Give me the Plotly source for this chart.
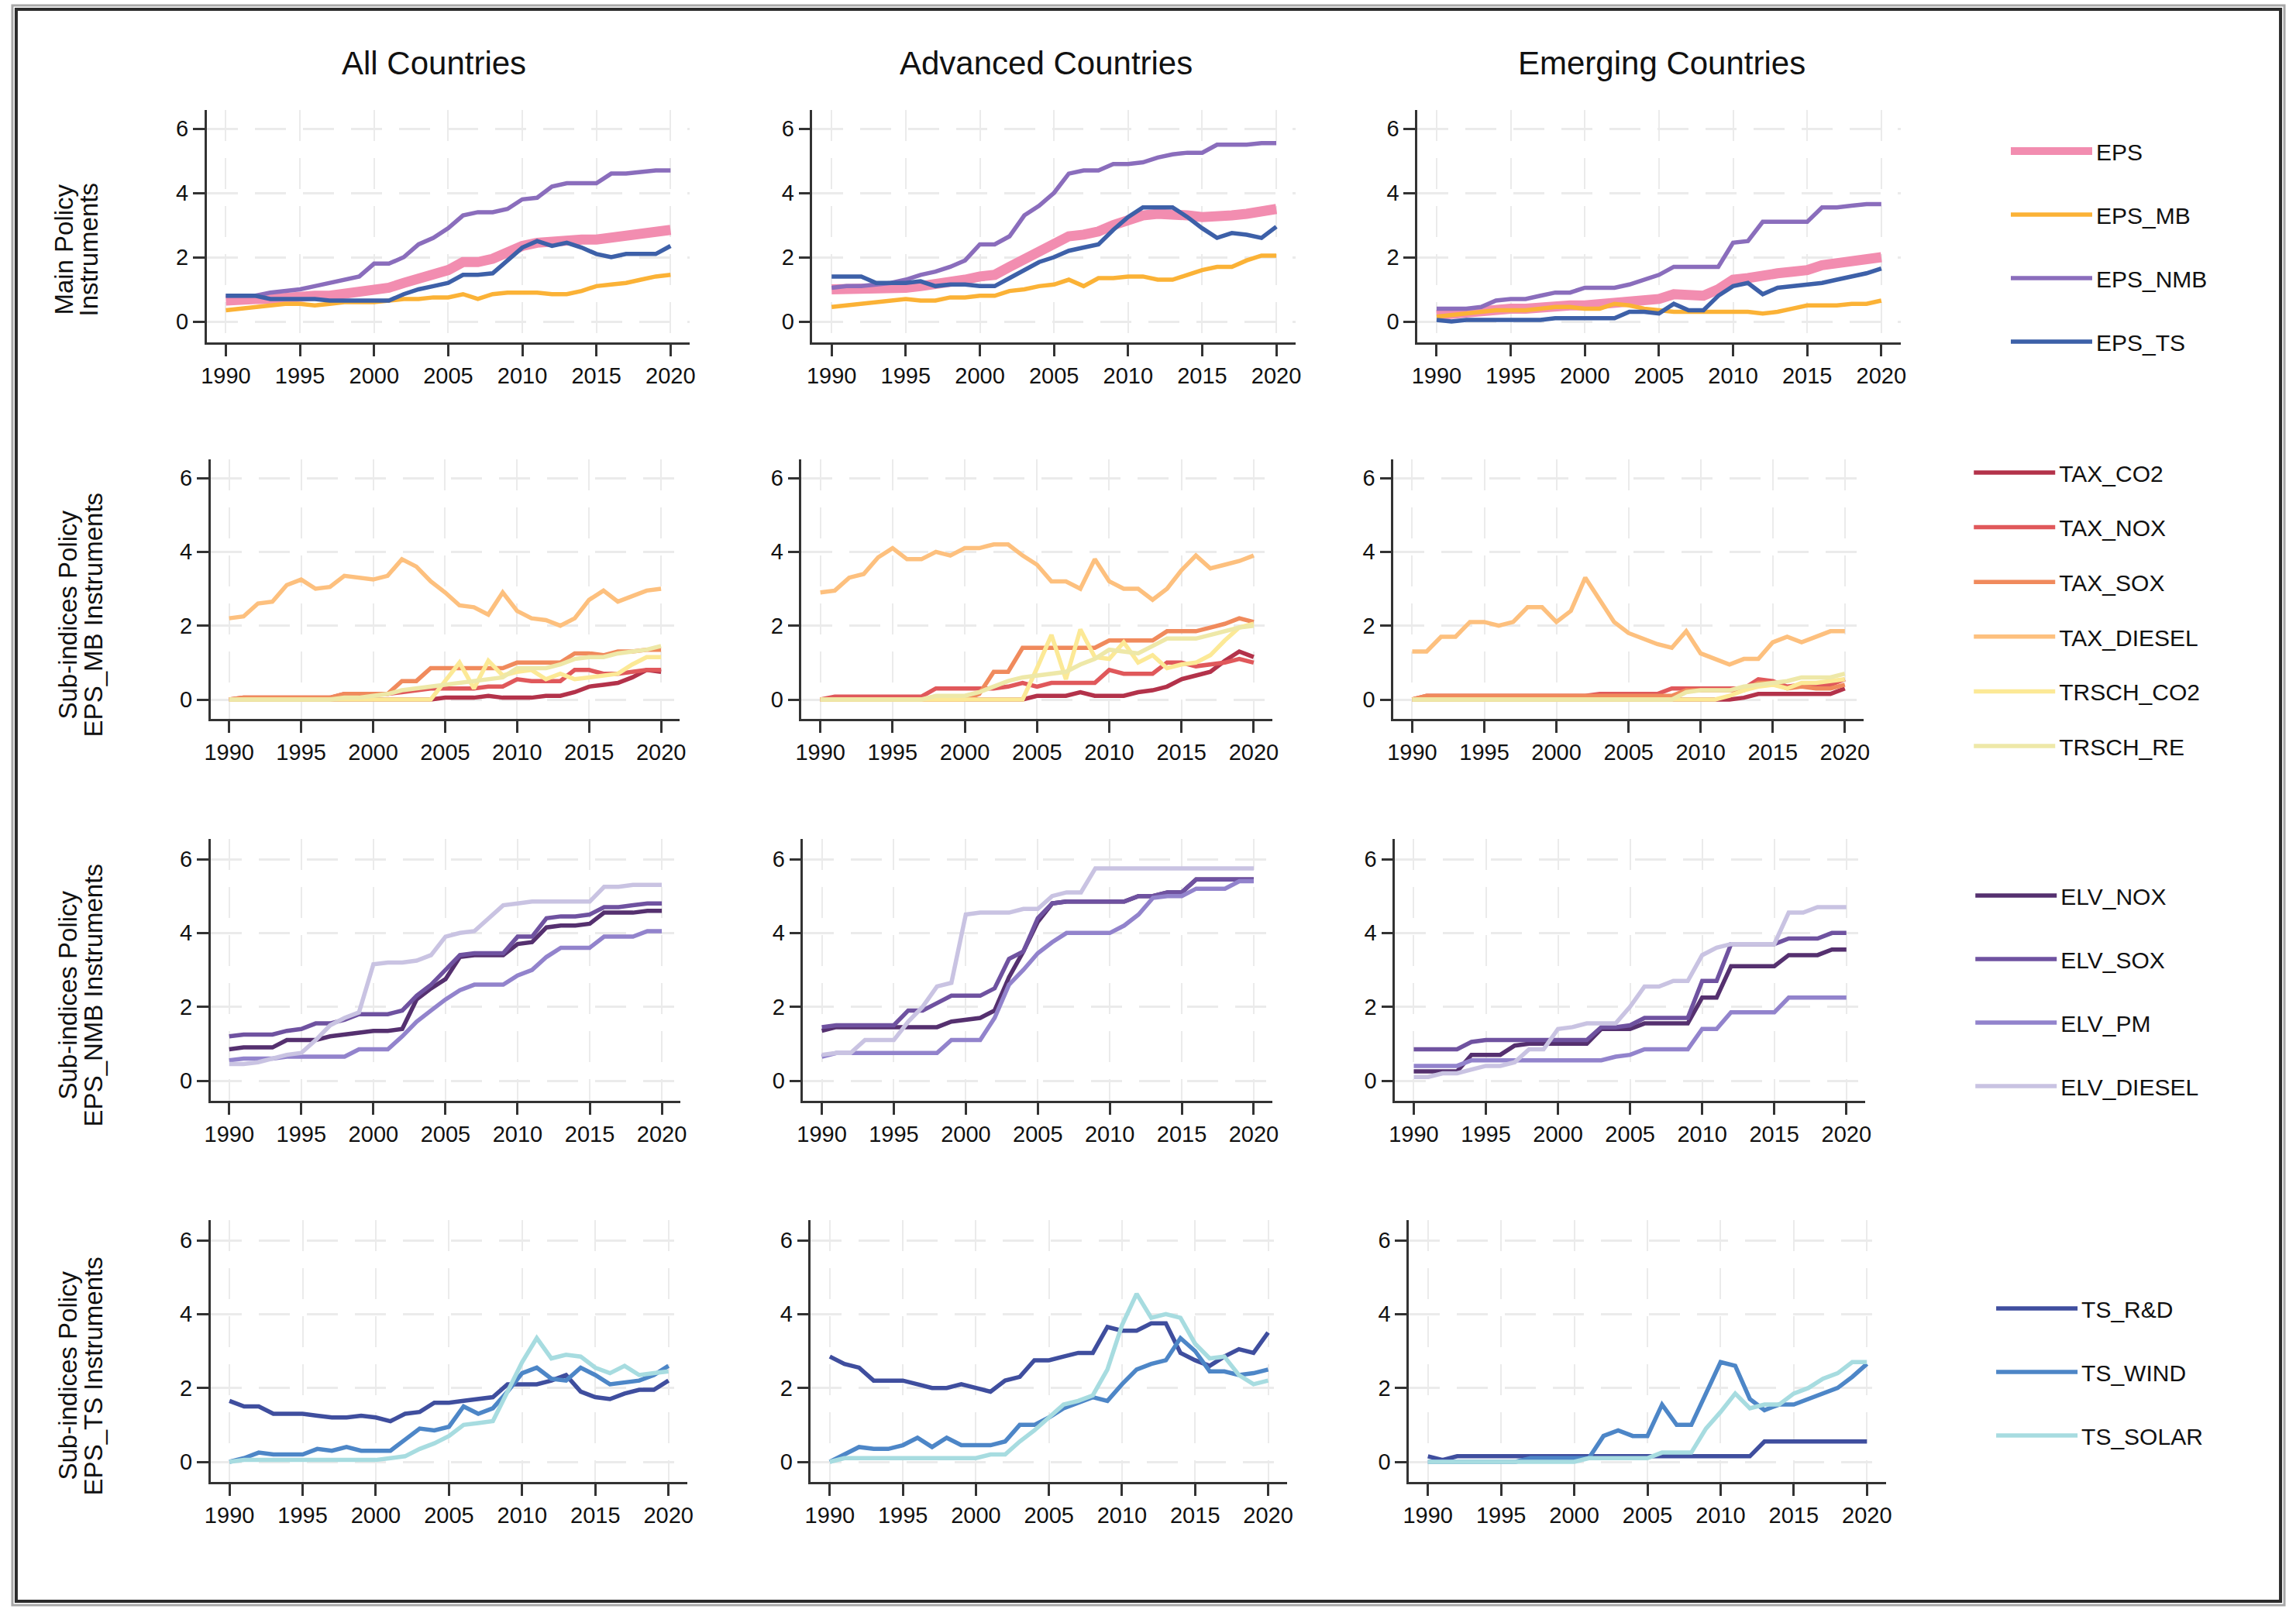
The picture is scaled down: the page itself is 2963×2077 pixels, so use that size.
import plotly.graph_objects as go

W, H = 2963, 2077

years = [1990, 1991, 1992, 1993, 1994, 1995, 1996, 1997, 1998, 1999, 2000,
         2001, 2002, 2003, 2004, 2005, 2006, 2007, 2008, 2009, 2010,
         2011, 2012, 2013, 2014, 2015, 2016, 2017, 2018, 2019, 2020]
x_ticks = [1990, 1995, 2000, 2005, 2010, 2015, 2020]
y_ticks = [0, 2, 4, 6]

col_titles = ["All Countries", "Advanced Countries", "Emerging Countries"]
row_titles = [("Main Policy", "Instruments"),
              ("Sub-indices Policy", "EPS_MB Instruments"),
              ("Sub-indices Policy", "EPS_NMB Instruments"),
              ("Sub-indices Policy", "EPS_TS Instruments")]

# ---------------- Row 1: main policy instruments ----------------
row1_names = ["EPS", "EPS_MB", "EPS_NMB", "EPS_TS"]
all_EPS = [0.65, 0.7, 0.7, 0.7, 0.75, 0.75, 0.8, 0.8, 0.85, 0.9, 1.0, 1.05, 1.2, 1.35, 1.5, 1.6, 1.85, 1.85, 1.95, 2.15, 2.35, 2.45, 2.5, 2.55, 2.55, 2.55, 2.6, 2.65, 2.7, 2.75, 2.85]
all_EPS_MB = [0.35, 0.4, 0.45, 0.5, 0.55, 0.55, 0.5, 0.55, 0.6, 0.6, 0.6, 0.65, 0.7, 0.7, 0.75, 0.75, 0.85, 0.7, 0.85, 0.9, 0.9, 0.9, 0.85, 0.85, 0.95, 1.1, 1.15, 1.2, 1.3, 1.4, 1.45]
all_EPS_NMB = [0.8, 0.8, 0.8, 0.9, 0.95, 1.0, 1.1, 1.2, 1.3, 1.4, 1.8, 1.8, 2.0, 2.4, 2.6, 2.9, 3.3, 3.4, 3.4, 3.5, 3.8, 3.85, 4.2, 4.3, 4.3, 4.3, 4.6, 4.6, 4.65, 4.7, 4.7]
all_EPS_TS = [0.8, 0.8, 0.8, 0.7, 0.7, 0.7, 0.7, 0.65, 0.65, 0.65, 0.65, 0.65, 0.85, 1.0, 1.1, 1.2, 1.45, 1.45, 1.5, 1.9, 2.3, 2.5, 2.35, 2.45, 2.3, 2.1, 2.0, 2.1, 2.1, 2.1, 2.35]

adv_EPS = [1.0, 1.0, 1.0, 1.0, 1.05, 1.05, 1.1, 1.15, 1.25, 1.3, 1.4, 1.45, 1.7, 1.95, 2.15, 2.4, 2.65, 2.7, 2.8, 3.0, 3.15, 3.3, 3.35, 3.35, 3.3, 3.25, 3.25, 3.3, 3.35, 3.4, 3.5]
adv_EPS_MB = [0.45, 0.5, 0.55, 0.6, 0.65, 0.7, 0.65, 0.65, 0.75, 0.75, 0.8, 0.8, 0.95, 1.0, 1.1, 1.15, 1.3, 1.1, 1.35, 1.35, 1.4, 1.4, 1.3, 1.3, 1.45, 1.6, 1.7, 1.7, 1.9, 2.05, 2.05]
adv_EPS_NMB = [1.05, 1.1, 1.1, 1.15, 1.2, 1.3, 1.45, 1.55, 1.7, 1.9, 2.4, 2.4, 2.65, 3.3, 3.6, 4.0, 4.6, 4.7, 4.7, 4.9, 4.9, 4.95, 5.1, 5.2, 5.25, 5.25, 5.5, 5.5, 5.5, 5.55, 5.55]
adv_EPS_TS = [1.4, 1.4, 1.4, 1.2, 1.2, 1.2, 1.25, 1.1, 1.15, 1.15, 1.1, 1.1, 1.35, 1.6, 1.85, 2.0, 2.2, 2.3, 2.4, 2.85, 3.25, 3.55, 3.55, 3.55, 3.25, 2.9, 2.6, 2.75, 2.7, 2.6, 2.95]

em_EPS = [0.2, 0.25, 0.3, 0.35, 0.4, 0.4, 0.4, 0.45, 0.5, 0.5, 0.5, 0.55, 0.6, 0.65, 0.65, 0.7, 0.85, 0.8, 0.8, 1.0, 1.3, 1.35, 1.45, 1.5, 1.55, 1.6, 1.75, 1.8, 1.85, 1.9, 2.0]
em_EPS_MB = [0.15, 0.2, 0.25, 0.3, 0.35, 0.35, 0.35, 0.4, 0.45, 0.45, 0.4, 0.4, 0.55, 0.5, 0.4, 0.35, 0.3, 0.3, 0.3, 0.3, 0.3, 0.3, 0.25, 0.3, 0.4, 0.5, 0.5, 0.5, 0.55, 0.55, 0.65]
em_EPS_NMB = [0.4, 0.4, 0.4, 0.45, 0.65, 0.7, 0.7, 0.8, 0.9, 0.9, 1.05, 1.05, 1.05, 1.15, 1.3, 1.45, 1.7, 1.7, 1.7, 1.7, 2.45, 2.5, 3.1, 3.1, 3.1, 3.1, 3.55, 3.55, 3.6, 3.65, 3.65]
em_EPS_TS = [0.05, 0.0, 0.05, 0.05, 0.05, 0.05, 0.05, 0.05, 0.1, 0.1, 0.1, 0.1, 0.1, 0.3, 0.3, 0.25, 0.55, 0.35, 0.35, 0.8, 1.1, 1.2, 0.85, 1.05, 1.1, 1.15, 1.2, 1.3, 1.4, 1.5, 1.65]

# ---------------- Row 2: market-based sub-indices ----------------
row2_names = ["TAX_CO2", "TAX_NOX", "TAX_SOX", "TAX_DIESEL", "TRSCH_CO2", "TRSCH_RE"]
all_TAX_CO2 = [0, 0, 0, 0, 0, 0, 0, 0, 0, 0, 0, 0, 0, 0, 0, 0.05, 0.05, 0.05, 0.1, 0.05, 0.05, 0.05, 0.1, 0.1, 0.2, 0.35, 0.4, 0.45, 0.6, 0.8, 0.75]
all_TAX_NOX = [0, 0.05, 0.05, 0.05, 0.05, 0.05, 0.05, 0.05, 0.15, 0.15, 0.15, 0.15, 0.2, 0.25, 0.3, 0.3, 0.3, 0.3, 0.35, 0.35, 0.55, 0.5, 0.5, 0.5, 0.8, 0.8, 0.7, 0.7, 0.75, 0.8, 0.8]
all_TAX_SOX = [0, 0.05, 0.05, 0.05, 0.05, 0.05, 0.05, 0.05, 0.15, 0.15, 0.15, 0.15, 0.5, 0.5, 0.85, 0.85, 0.85, 0.85, 0.85, 0.85, 1.0, 1.0, 1.0, 1.0, 1.25, 1.25, 1.2, 1.3, 1.3, 1.35, 1.35]
all_TAX_DIESEL = [2.2, 2.25, 2.6, 2.65, 3.1, 3.25, 3.0, 3.05, 3.35, 3.3, 3.25, 3.35, 3.8, 3.6, 3.2, 2.9, 2.55, 2.5, 2.3, 2.9, 2.4, 2.2, 2.15, 2.0, 2.2, 2.7, 2.95, 2.65, 2.8, 2.95, 3.0]
all_TRSCH_CO2 = [0, 0, 0, 0, 0, 0, 0, 0, 0, 0, 0, 0, 0, 0, 0, 0.5, 1.0, 0.3, 1.05, 0.65, 0.75, 0.8, 0.55, 0.7, 0.55, 0.6, 0.65, 0.7, 0.95, 1.15, 1.15]
all_TRSCH_RE = [0, 0, 0, 0, 0, 0, 0, 0, 0.05, 0.05, 0.1, 0.15, 0.25, 0.3, 0.35, 0.4, 0.45, 0.5, 0.55, 0.6, 0.85, 0.85, 0.85, 0.95, 1.1, 1.15, 1.15, 1.25, 1.3, 1.35, 1.45]

adv_TAX_CO2 = [0, 0, 0, 0, 0, 0, 0, 0, 0, 0, 0, 0, 0, 0, 0, 0.1, 0.1, 0.1, 0.2, 0.1, 0.1, 0.1, 0.2, 0.25, 0.35, 0.55, 0.65, 0.75, 1.05, 1.3, 1.15]
adv_TAX_NOX = [0, 0.08, 0.08, 0.08, 0.08, 0.08, 0.08, 0.08, 0.3, 0.3, 0.3, 0.3, 0.3, 0.35, 0.45, 0.35, 0.45, 0.45, 0.45, 0.45, 0.8, 0.7, 0.7, 0.7, 1.0, 1.0, 0.9, 0.95, 1.0, 1.1, 1.0]
adv_TAX_SOX = [0, 0, 0, 0, 0, 0, 0, 0, 0, 0, 0, 0.15, 0.75, 0.75, 1.4, 1.4, 1.4, 1.4, 1.4, 1.4, 1.6, 1.6, 1.6, 1.6, 1.85, 1.85, 1.85, 1.95, 2.05, 2.2, 2.1]
adv_TAX_DIESEL = [2.9, 2.95, 3.3, 3.4, 3.85, 4.1, 3.8, 3.8, 4.0, 3.9, 4.1, 4.1, 4.2, 4.2, 3.9, 3.65, 3.2, 3.2, 3.0, 3.8, 3.2, 3.0, 3.0, 2.7, 3.0, 3.5, 3.9, 3.55, 3.65, 3.75, 3.9]
adv_TRSCH_CO2 = [0, 0, 0, 0, 0, 0, 0, 0, 0, 0, 0, 0, 0, 0, 0, 0.85, 1.75, 0.55, 1.9, 1.15, 1.1, 1.55, 1.0, 1.2, 0.85, 0.95, 1.0, 1.2, 1.6, 1.95, 2.05]
adv_TRSCH_RE = [0, 0, 0, 0, 0, 0, 0, 0, 0.1, 0.1, 0.1, 0.2, 0.35, 0.5, 0.6, 0.65, 0.7, 0.75, 0.95, 1.1, 1.35, 1.3, 1.25, 1.45, 1.65, 1.65, 1.65, 1.75, 1.85, 1.95, 2.0]

em_TAX_CO2 = [0, 0, 0, 0, 0, 0, 0, 0, 0, 0, 0, 0, 0, 0, 0, 0, 0, 0, 0, 0, 0, 0, 0, 0.05, 0.15, 0.15, 0.15, 0.15, 0.15, 0.15, 0.3]
em_TAX_NOX = [0, 0.1, 0.1, 0.1, 0.1, 0.1, 0.1, 0.1, 0.1, 0.1, 0.1, 0.1, 0.1, 0.15, 0.15, 0.15, 0.15, 0.15, 0.3, 0.3, 0.3, 0.3, 0.3, 0.3, 0.55, 0.5, 0.35, 0.4, 0.4, 0.4, 0.55]
em_TAX_SOX = [0, 0.1, 0.1, 0.1, 0.1, 0.1, 0.1, 0.1, 0.1, 0.1, 0.1, 0.1, 0.1, 0.1, 0.1, 0.1, 0.1, 0.1, 0.1, 0.25, 0.25, 0.25, 0.25, 0.25, 0.45, 0.45, 0.3, 0.35, 0.3, 0.3, 0.4]
em_TAX_DIESEL = [1.3, 1.3, 1.7, 1.7, 2.1, 2.1, 2.0, 2.1, 2.5, 2.5, 2.1, 2.4, 3.3, 2.7, 2.1, 1.8, 1.65, 1.5, 1.4, 1.85, 1.25, 1.1, 0.95, 1.1, 1.1, 1.55, 1.7, 1.55, 1.7, 1.85, 1.85]
em_TRSCH_CO2 = [0, 0, 0, 0, 0, 0, 0, 0, 0, 0, 0, 0, 0, 0, 0, 0, 0, 0, 0, 0, 0, 0, 0.1, 0.25, 0.35, 0.4, 0.3, 0.45, 0.45, 0.5, 0.55]
em_TRSCH_RE = [0, 0, 0, 0, 0, 0, 0, 0, 0, 0, 0, 0, 0, 0, 0, 0, 0, 0, 0, 0.2, 0.25, 0.25, 0.25, 0.35, 0.4, 0.45, 0.5, 0.6, 0.6, 0.6, 0.7]

# ---------------- Row 3: non-market-based sub-indices ----------------
row3_names = ["ELV_NOX", "ELV_SOX", "ELV_PM", "ELV_DIESEL"]
all_ELV_NOX = [0.85, 0.9, 0.9, 0.9, 1.1, 1.1, 1.1, 1.2, 1.25, 1.3, 1.35, 1.35, 1.4, 2.2, 2.5, 2.75, 3.35, 3.4, 3.4, 3.4, 3.7, 3.75, 4.15, 4.2, 4.2, 4.25, 4.55, 4.55, 4.55, 4.6, 4.6]
all_ELV_SOX = [1.2, 1.25, 1.25, 1.25, 1.35, 1.4, 1.55, 1.55, 1.65, 1.8, 1.8, 1.8, 1.9, 2.3, 2.6, 3.0, 3.4, 3.45, 3.45, 3.45, 3.9, 3.9, 4.4, 4.45, 4.45, 4.5, 4.7, 4.7, 4.75, 4.8, 4.8]
all_ELV_PM = [0.55, 0.6, 0.6, 0.6, 0.65, 0.65, 0.65, 0.65, 0.65, 0.85, 0.85, 0.85, 1.2, 1.6, 1.9, 2.2, 2.45, 2.6, 2.6, 2.6, 2.85, 3.0, 3.35, 3.6, 3.6, 3.6, 3.9, 3.9, 3.9, 4.05, 4.05]
all_ELV_DIESEL = [0.45, 0.45, 0.5, 0.6, 0.7, 0.75, 1.1, 1.5, 1.7, 1.85, 3.15, 3.2, 3.2, 3.25, 3.4, 3.9, 4.0, 4.05, 4.4, 4.75, 4.8, 4.85, 4.85, 4.85, 4.85, 4.85, 5.25, 5.25, 5.3, 5.3, 5.3]

adv_ELV_NOX = [1.35, 1.45, 1.45, 1.45, 1.45, 1.45, 1.45, 1.45, 1.45, 1.6, 1.65, 1.7, 1.9, 2.8, 3.5, 4.3, 4.8, 4.85, 4.85, 4.85, 4.85, 4.85, 5.0, 5.0, 5.1, 5.1, 5.45, 5.45, 5.45, 5.45, 5.45]
adv_ELV_SOX = [1.45, 1.5, 1.5, 1.5, 1.5, 1.5, 1.9, 1.9, 2.1, 2.3, 2.3, 2.3, 2.5, 3.3, 3.5, 4.4, 4.8, 4.85, 4.85, 4.85, 4.85, 4.85, 5.0, 5.0, 5.1, 5.1, 5.45, 5.45, 5.45, 5.45, 5.45]
adv_ELV_PM = [0.65, 0.75, 0.75, 0.75, 0.75, 0.75, 0.75, 0.75, 0.75, 1.1, 1.1, 1.1, 1.7, 2.6, 3.0, 3.45, 3.75, 4.0, 4.0, 4.0, 4.0, 4.2, 4.5, 4.95, 5.0, 5.0, 5.2, 5.2, 5.2, 5.4, 5.4]
adv_ELV_DIESEL = [0.7, 0.75, 0.75, 1.1, 1.1, 1.1, 1.6, 2.0, 2.55, 2.65, 4.5, 4.55, 4.55, 4.55, 4.65, 4.65, 5.0, 5.1, 5.1, 5.75, 5.75, 5.75, 5.75, 5.75, 5.75, 5.75, 5.75, 5.75, 5.75, 5.75, 5.75]

em_ELV_NOX = [0.25, 0.25, 0.25, 0.25, 0.7, 0.7, 0.7, 0.95, 1.0, 1.0, 1.0, 1.0, 1.0, 1.4, 1.4, 1.4, 1.55, 1.55, 1.55, 1.55, 2.25, 2.25, 3.1, 3.1, 3.1, 3.1, 3.4, 3.4, 3.4, 3.55, 3.55]
em_ELV_SOX = [0.85, 0.85, 0.85, 0.85, 1.05, 1.1, 1.1, 1.1, 1.1, 1.1, 1.1, 1.1, 1.1, 1.45, 1.45, 1.5, 1.7, 1.7, 1.7, 1.7, 2.7, 2.7, 3.7, 3.7, 3.7, 3.7, 3.85, 3.85, 3.85, 4.0, 4.0]
em_ELV_PM = [0.4, 0.4, 0.4, 0.4, 0.55, 0.55, 0.55, 0.55, 0.55, 0.55, 0.55, 0.55, 0.55, 0.55, 0.65, 0.7, 0.85, 0.85, 0.85, 0.85, 1.4, 1.4, 1.85, 1.85, 1.85, 1.85, 2.25, 2.25, 2.25, 2.25, 2.25]
em_ELV_DIESEL = [0.1, 0.1, 0.2, 0.2, 0.3, 0.4, 0.4, 0.5, 0.85, 0.85, 1.4, 1.45, 1.55, 1.55, 1.55, 2.0, 2.55, 2.55, 2.7, 2.7, 3.4, 3.6, 3.7, 3.7, 3.7, 3.7, 4.55, 4.55, 4.7, 4.7, 4.7]

# ---------------- Row 4: technology support sub-indices ----------------
row4_names = ["TS_R&D", "TS_WIND", "TS_SOLAR"]
all_TS_RD = [1.65, 1.5, 1.5, 1.3, 1.3, 1.3, 1.25, 1.2, 1.2, 1.25, 1.2, 1.1, 1.3, 1.35, 1.6, 1.6, 1.65, 1.7, 1.75, 2.1, 2.1, 2.1, 2.2, 2.35, 1.9, 1.75, 1.7, 1.85, 1.95, 1.95, 2.2]
all_TS_WIND = [0.0, 0.1, 0.25, 0.2, 0.2, 0.2, 0.35, 0.3, 0.4, 0.3, 0.3, 0.3, 0.6, 0.9, 0.85, 0.95, 1.5, 1.3, 1.45, 1.9, 2.4, 2.55, 2.25, 2.2, 2.55, 2.35, 2.1, 2.15, 2.2, 2.35, 2.6]
all_TS_SOLAR = [0.0, 0.05, 0.05, 0.05, 0.05, 0.05, 0.05, 0.05, 0.05, 0.05, 0.05, 0.1, 0.15, 0.35, 0.5, 0.7, 1.0, 1.05, 1.1, 1.9, 2.7, 3.35, 2.8, 2.9, 2.85, 2.55, 2.4, 2.6, 2.35, 2.4, 2.45]

adv_TS_RD = [2.85, 2.65, 2.55, 2.2, 2.2, 2.2, 2.1, 2.0, 2.0, 2.1, 2.0, 1.9, 2.2, 2.3, 2.75, 2.75, 2.85, 2.95, 2.95, 3.65, 3.55, 3.55, 3.75, 3.75, 2.95, 2.75, 2.6, 2.85, 3.05, 2.95, 3.5]
adv_TS_WIND = [0.0, 0.2, 0.4, 0.35, 0.35, 0.45, 0.65, 0.4, 0.65, 0.45, 0.45, 0.45, 0.55, 1.0, 1.0, 1.2, 1.45, 1.6, 1.75, 1.65, 2.1, 2.5, 2.65, 2.75, 3.35, 3.0, 2.45, 2.45, 2.35, 2.4, 2.5]
adv_TS_SOLAR = [0.0, 0.1, 0.1, 0.1, 0.1, 0.1, 0.1, 0.1, 0.1, 0.1, 0.1, 0.2, 0.2, 0.55, 0.85, 1.2, 1.55, 1.65, 1.8, 2.5, 3.7, 4.55, 3.9, 4.0, 3.9, 3.2, 2.8, 2.85, 2.35, 2.1, 2.2]

em_TS_RD = [0.15, 0.05, 0.15, 0.15, 0.15, 0.15, 0.15, 0.15, 0.15, 0.15, 0.15, 0.15, 0.15, 0.15, 0.15, 0.15, 0.15, 0.15, 0.15, 0.15, 0.15, 0.15, 0.15, 0.55, 0.55, 0.55, 0.55, 0.55, 0.55, 0.55, 0.55]
em_TS_WIND = [0.0, 0.0, 0.0, 0.0, 0.0, 0.0, 0.0, 0.1, 0.1, 0.1, 0.1, 0.1, 0.7, 0.85, 0.7, 0.7, 1.55, 1.0, 1.0, 1.85, 2.7, 2.6, 1.7, 1.4, 1.55, 1.55, 1.7, 1.85, 2.0, 2.3, 2.65]
em_TS_SOLAR = [0.0, 0.0, 0.0, 0.0, 0.0, 0.0, 0.0, 0.0, 0.0, 0.0, 0.0, 0.1, 0.1, 0.1, 0.1, 0.1, 0.25, 0.25, 0.25, 0.9, 1.35, 1.85, 1.45, 1.55, 1.55, 1.85, 2.0, 2.25, 2.4, 2.7, 2.7]

# ---------------- styles ----------------
row1_colors = ["#F28DB0", "#FBB236", "#8A6DBC", "#3D60A8"]
row1_widths = [13, 5.5, 5.5, 5.5]
row2_colors = ["#B3324A", "#E0585B", "#F08A5C", "#FDC07E", "#FCE996", "#EEE8A8"]
row2_widths = [5.5, 5.5, 5.5, 5.5, 5.5, 5.5]
row3_colors = ["#55306F", "#6F52A0", "#9283CC", "#C9C3E2"]
row3_widths = [5.5, 5.5, 5.5, 5.5]
row4_colors = ["#3F4E9E", "#4D86C7", "#A7DCE0"]
row4_widths = [5.5, 5.5, 5.5]

rows = [
    (row1_names, row1_colors, row1_widths,
     [[all_EPS, all_EPS_MB, all_EPS_NMB, all_EPS_TS],
      [adv_EPS, adv_EPS_MB, adv_EPS_NMB, adv_EPS_TS],
      [em_EPS, em_EPS_MB, em_EPS_NMB, em_EPS_TS]]),
    (row2_names, row2_colors, row2_widths,
     [[all_TAX_CO2, all_TAX_NOX, all_TAX_SOX, all_TAX_DIESEL, all_TRSCH_CO2, all_TRSCH_RE],
      [adv_TAX_CO2, adv_TAX_NOX, adv_TAX_SOX, adv_TAX_DIESEL, adv_TRSCH_CO2, adv_TRSCH_RE],
      [em_TAX_CO2, em_TAX_NOX, em_TAX_SOX, em_TAX_DIESEL, em_TRSCH_CO2, em_TRSCH_RE]]),
    (row3_names, row3_colors, row3_widths,
     [[all_ELV_NOX, all_ELV_SOX, all_ELV_PM, all_ELV_DIESEL],
      [adv_ELV_NOX, adv_ELV_SOX, adv_ELV_PM, adv_ELV_DIESEL],
      [em_ELV_NOX, em_ELV_SOX, em_ELV_PM, em_ELV_DIESEL]]),
    (row4_names, row4_colors, row4_widths,
     [[all_TS_RD, all_TS_WIND, all_TS_SOLAR],
      [adv_TS_RD, adv_TS_WIND, adv_TS_SOLAR],
      [em_TS_RD, em_TS_WIND, em_TS_SOLAR]]),
]

# ---------------- layout geometry (pixels) ----------------
panel_x = [[(260, 887), (1046, 1673), (1831, 2458)],
           [(265, 874), (1032, 1643), (1800, 2410)],
           [(265, 875), (1034, 1643), (1802, 2412)],
           [(265, 884), (1044, 1662), (1820, 2439)]]
# top, bottom, pixel of y=6, pixel of y=0
panel_y = [(142, 442, 166, 415), (593, 928, 617, 903),
           (1083, 1421, 1109, 1395), (1575, 1913, 1601, 1887)]
x_range = [1988.7, 2021.3]

legend_text_x = [2709, 2661, 2663, 2690]
legend_first_y = [200, 615, 1161, 1694]
legend_step = [82, 70.6, 82, 82]
ytitle_x = [(74, 107), (79, 113), (79, 113), (79, 113)]
ytitle_y = [322, 794, 1285, 1776]
coltitle_x = [555, 1349, 2148]
coltitle_y = 82

FONT = "Arial, Liberation Sans, Helvetica, sans-serif"
TXT = "#111111"
AX = "#333333"
ITEM_W = 105
ITEM_H = 42


def px(x):
    return x / W


def py(y):
    return 1 - y / H


fig = go.Figure()
layout = {}
for r, (names, colors, widths, cols) in enumerate(rows):
    top, bot, p6, p0 = panel_y[r]
    ppu = (p0 - p6) / 6.0
    yr = [-(bot - p0) / ppu, 6 + (p6 - top) / ppu]
    leg = "legend" if r == 0 else f"legend{r + 1}"
    for c in range(3):
        idx = r * 3 + c + 1
        sfx = "" if idx == 1 else str(idx)
        x0, x1 = panel_x[r][c]
        layout["xaxis" + sfx] = dict(
            domain=[px(x0), px(x1)], range=x_range, anchor="y" + sfx,
            tickmode="array", tickvals=x_ticks, ticks="outside", ticklen=15,
            tickwidth=2.5, tickcolor=AX, showline=True, linecolor=AX, linewidth=2.5,
            showgrid=True, gridcolor="#ebebeb", gridwidth=2, griddash="40px,22px",
            zeroline=False, tickfont=dict(family=FONT, size=29, color=TXT),
            fixedrange=True)
        layout["yaxis" + sfx] = dict(
            domain=[py(bot), py(top)], range=yr, anchor="x" + sfx,
            tickmode="array", tickvals=y_ticks, ticks="outside", ticklen=15,
            tickwidth=2.5, tickcolor=AX, showline=True, linecolor=AX, linewidth=2.5,
            showgrid=True, gridcolor="#ebebeb", gridwidth=3, griddash="40px,22px",
            zeroline=False, tickfont=dict(family=FONT, size=29, color=TXT),
            fixedrange=True)
        for k, name in enumerate(names):
            fig.add_trace(go.Scatter(
                x=years, y=cols[c][k], mode="lines", name=name,
                line=dict(color=colors[k], width=widths[k]),
                xaxis="x" + sfx, yaxis="y" + sfx,
                legend=leg, legendgroup=f"r{r}_{name}", showlegend=(c == 0)))
    layout[leg] = dict(
        x=px(legend_text_x[r] - ITEM_W - 8), y=py(legend_first_y[r] - ITEM_H / 2 - 10),
        xanchor="left", yanchor="top", traceorder="grouped",
        tracegroupgap=legend_step[r] - ITEM_H, itemwidth=ITEM_W,
        font=dict(family=FONT, size=30, color=TXT), bgcolor="rgba(0,0,0,0)")

annotations = []
for c, t in enumerate(col_titles):
    annotations.append(dict(text=t, x=px(coltitle_x[c]), y=py(coltitle_y), xref="paper",
                            yref="paper", showarrow=False, xanchor="center", yanchor="middle",
                            font=dict(family=FONT, size=42, color=TXT)))
for r, (l1, l2) in enumerate(row_titles):
    for txt, xx in ((l1, ytitle_x[r][0]), (l2, ytitle_x[r][1])):
        annotations.append(dict(text=txt, x=px(xx), y=py(ytitle_y[r]), xref="paper",
                                yref="paper", showarrow=False, textangle=-90,
                                xanchor="center", yanchor="middle",
                                font=dict(family=FONT, size=33, color=TXT)))

shapes = [
    dict(type="rect", xref="paper", yref="paper", x0=px(8), y0=py(7), x1=px(2956), y1=py(2072),
         line=dict(color="#a8a8a8", width=3), fillcolor="rgba(0,0,0,0)", layer="above"),
    dict(type="rect", xref="paper", yref="paper", x0=px(13), y0=py(12), x1=px(2951), y1=py(2067),
         line=dict(color="#2b2b2b", width=4), fillcolor="rgba(0,0,0,0)", layer="above"),
]

fig.update_layout(
    width=W, height=H, autosize=False,
    margin=dict(l=0, r=0, t=0, b=0, pad=0),
    paper_bgcolor="white", plot_bgcolor="white",
    font=dict(family=FONT, color=TXT),
    annotations=annotations, shapes=shapes,
    **layout)

fig.write_html("out.html", config={"displayModeBar": False},
               post_script="document.body.style.margin='0px';document.body.style.overflow='hidden';")
